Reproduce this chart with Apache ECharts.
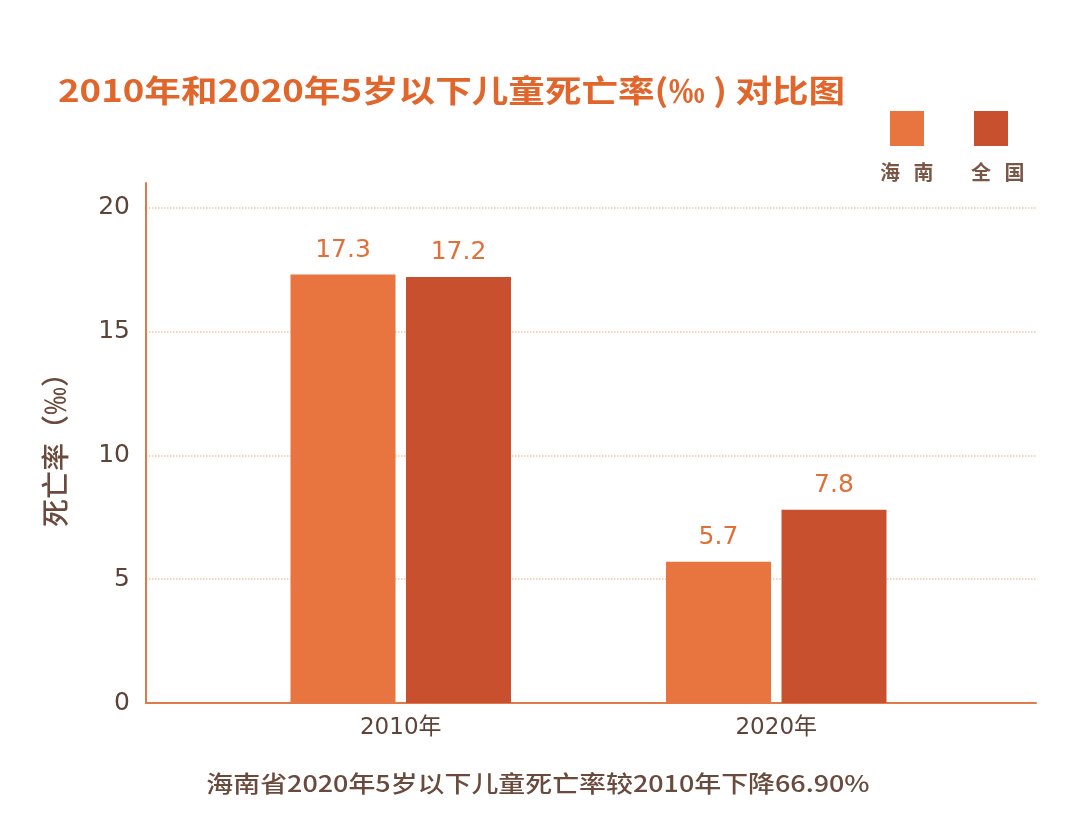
<!DOCTYPE html>
<html><head><meta charset="utf-8">
<script src="https://cdn.jsdelivr.net/npm/echarts@6/dist/echarts.min.js"></script>
<style>html,body{margin:0;padding:0;background:#fff;}#c{width:1080px;height:832px;}</style>
</head><body><div id="c"></div>
<script>
const categories = ['2010年', '2020年'];
const seriesNames = ['海南', '全国'];
const legendLabels = ['海   南', '全   国'];
const hainan = [17.3, 5.7];
const national = [17.2, 7.8];
const titleText = '2010年和2020年5岁以下儿童死亡率(‰ ) 对比图';
const noteText = '海南省2020年5岁以下儿童死亡率较2010年下降66.90%';

const CJK = '"Noto Sans CJK SC", "Noto Sans", sans-serif';
const NUM = '"DejaVu Sans", "Noto Sans CJK SC", sans-serif';
const BROWN = '#6a4a3c';
const ORANGE = '#e8743f';
const RED = '#c9502f';

const chart = echarts.init(document.getElementById('c'), null, {renderer: 'canvas'});
chart.setOption({
  animation: false,
  backgroundColor: '#fff',
  legend: {
    data: seriesNames,
    right: 67, top: 106,
    icon: 'rect',
    itemWidth: 34, itemHeight: 35, itemGap: 50,
    formatter: () => '',
    selectedMode: false,
    textStyle: {fontSize: 1}
  },
  graphic: [
    {type: 'text', x: 58, y: 90, scaleX: 1.18,
     style: {text: titleText, font: 'bold 31px ' + CJK, fill: '#e0662c', align: 'left', verticalAlign: 'middle'}},
    {type: 'text', x: 880, y: 172,
     style: {text: legendLabels[0], font: 'bold 20px ' + CJK, fill: '#7a5646', align: 'left', verticalAlign: 'middle'}},
    {type: 'text', x: 971, y: 172,
     style: {text: legendLabels[1], font: 'bold 20px ' + CJK, fill: '#7a5646', align: 'left', verticalAlign: 'middle'}},
    {type: 'text', x: 538, y: 783, scaleX: 1.17,
     style: {text: noteText, font: '500 23px ' + CJK, fill: BROWN, align: 'center', verticalAlign: 'middle'}}
  ],
  grid: [
    {left: 146, right: 44, top: 183, bottom: 129},
    {left: 213, right: 116, top: 183, bottom: 129}
  ],
  xAxis: [
    {gridIndex: 0, type: 'value', min: 0, max: 1,
     axisLine: {show: true, onZero: false, lineStyle: {color: '#e07a4a', width: 2}},
     axisTick: {show: false}, axisLabel: {show: false}, splitLine: {show: false}},
    {gridIndex: 1, type: 'category', data: categories,
     axisLine: {show: false}, axisTick: {show: false},
     axisLabel: {margin: 14, fontSize: 23, fontFamily: NUM, color: '#5e4438'}}
  ],
  yAxis: [
    {gridIndex: 0, type: 'value', min: 0, max: 21, interval: 5,
     name: '死亡率（‰）', nameLocation: 'middle', nameGap: 77, nameRotate: 90,
     nameTextStyle: {fontFamily: CJK, fontSize: 28, color: BROWN, fontWeight: 500},
     axisLine: {show: true, lineStyle: {color: '#e07a4a', width: 2}},
     axisTick: {show: false},
     axisLabel: {margin: 16, fontSize: 25, fontFamily: NUM, color: '#5e4438', showMaxLabel: false},
     splitLine: {show: true, lineStyle: {type: 'dotted', width: 1.5,
       color: ['transparent', '#f3c4a8', '#f3c4a8', '#f3c4a8', '#f3c4a8', 'transparent']}}},
    {gridIndex: 1, type: 'value', min: 0, max: 21, interval: 5, show: false}
  ],
  series: [
    {name: seriesNames[0], type: 'bar', xAxisIndex: 1, yAxisIndex: 1, data: hainan,
     barWidth: 105, barGap: '10%', itemStyle: {color: ORANGE},
     label: {show: true, position: 'top', distance: 12, fontSize: 25, fontFamily: NUM, color: '#e06f38'}},
    {name: seriesNames[1], type: 'bar', xAxisIndex: 1, yAxisIndex: 1, data: national,
     barWidth: 105, barGap: '10%', itemStyle: {color: RED},
     label: {show: true, position: 'top', distance: 12, fontSize: 25, fontFamily: NUM, color: '#e06f38'}}
  ]
});
</script></body></html>
